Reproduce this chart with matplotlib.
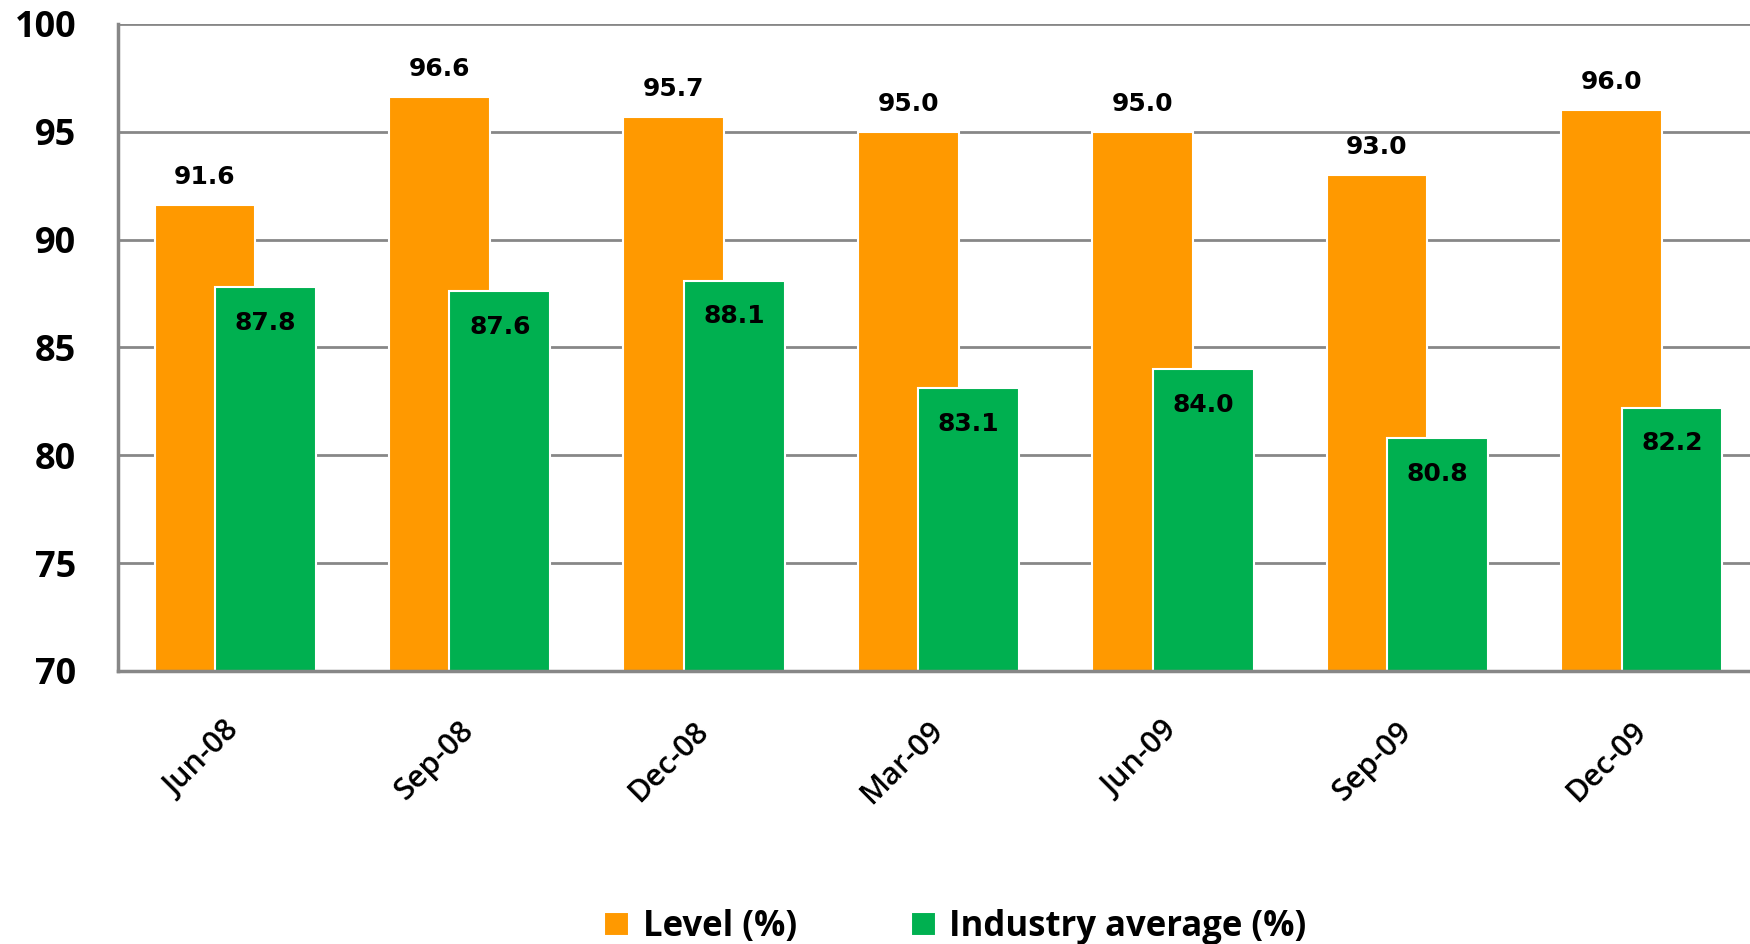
import numpy as np
import matplotlib
matplotlib.use("Agg")
import matplotlib.pyplot as plt

periods = ["Jun-08", "Sep-08", "Dec-08", "Mar-09", "Jun-09", "Sep-09", "Dec-09"]
level = [91.6, 96.6, 95.7, 95.0, 95.0, 93.0, 96.0]
industry = [87.8, 87.6, 88.1, 83.1, 84.0, 80.8, 82.2]
yticks = [70, 75, 80, 85, 90, 95, 100]

orange = "#FF9900"
green = "#00B050"
grey = "#878787"

fig = plt.figure(figsize=(17.5, 9.44), dpi=100)
ax = fig.add_axes([0.0674, 0.2892, 0.9377, 0.6854])

x = np.arange(len(periods))
w = 0.43
off = 0.129

b1 = ax.bar(x - off, level, w, color=orange, edgecolor="white", linewidth=1.5,
            label="Level (%)", zorder=2)
b2 = ax.bar(x + off, industry, w, color=green, edgecolor="white", linewidth=1.5,
            label="Industry average (%)", zorder=3)

ax.set_ylim(70, 100)
ax.set_xlim(-0.5, len(periods) - 0.5)
ax.set_yticks(yticks)
ax.set_yticklabels([str(t) for t in yticks], family="Open Sans", weight="bold", fontsize=26)
ax.yaxis.grid(True, color=grey, linewidth=2, zorder=0)
ax.set_axisbelow(True)

for s in ["top", "right"]:
    ax.spines[s].set_visible(False)
for s in ["left", "bottom"]:
    ax.spines[s].set_color(grey)
    ax.spines[s].set_linewidth(2.5)
ax.spines["bottom"].set_zorder(4)

ax.tick_params(axis="both", length=0)
ax.tick_params(axis="y", pad=30)
ax.tick_params(axis="x", pad=40)

ax.set_xticks(x)
ax.set_xticklabels(periods, rotation=45, ha="right", va="center",
                   rotation_mode="anchor", family="Open Sans", weight="semibold",
                   fontsize=22)

# value labels: above the orange bars, inside the top of the green ones
for xi, v in zip(x, level):
    ax.text(xi - off, v + 1.3, f"{v:.1f}", ha="center", va="center",
            family="DejaVu Sans", weight="bold", fontsize=18)
for xi, v in zip(x, industry):
    ax.text(xi + off, v - 1.65, f"{v:.1f}", ha="center", va="center",
            family="DejaVu Sans", weight="bold", fontsize=18, zorder=5)

fig.legend(handles=[b1, b2], loc="center", bbox_to_anchor=(0.546, 0.018),
           ncol=2, frameon=False,
           prop={"family": "Open Sans", "weight": "bold", "size": 25},
           handlelength=0.7, handleheight=0.7, handletextpad=0.4, columnspacing=3.3)

fig.savefig("out.png", dpi=100)
